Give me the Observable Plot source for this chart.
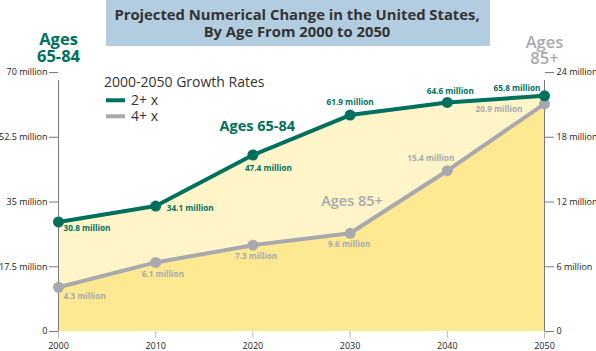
<!DOCTYPE html>
<html>
<head>
<meta charset="utf-8">
<script src="https://cdn.jsdelivr.net/npm/d3@7"></script>
<script src="https://cdn.jsdelivr.net/npm/@observablehq/plot@0.6"></script>
<style>
  html, body { margin: 0; padding: 0; background: #fff; }
  #chart { width: 596px; height: 351px; }
</style>
</head>
<body>
<div id="chart"></div>
<script>
// ---- data (millions), as plotted in the picture ----
const years = [2000, 2010, 2020, 2030, 2040, 2050];
const ages6584 = [29.6, 33.9, 47.7, 58.5, 61.9, 63.7];      // left axis
const ages85 = [4.1, 6.4, 8.0, 9.1, 14.9, 21.1];             // right axis
const labels6584 = ["30.8 million", "34.1 million", "47.4 million", "61.9 million", "64.6 million", "65.8 million"];
const labels85 = ["4.3 million", "6.1 million", "7.3 million", "9.6 million", "15.4 million", "20.9 million"];
const leftTicks = [0, 17.5, 35, 52.5, 70];
const rightTicks = [0, 6, 12, 18, 24];
const xTicks = [2000, 2010, 2020, 2030, 2040, 2050];
const titleLines = ["Projected Numerical Change in the United States,", "By Age From 2000 to 2050"];
const legendTitle = "2000-2050 Growth Rates";
const legendItems = ["2+ x", "4+ x"];

// label placement (style only)
const off6584 = [[5, 9.5, "start"], [11, 5, "start"], [-8, 16, "start"], [0, -10, "middle"], [3, -8.5, "middle"], [-4, -5, "end"]];
const off85 = [[5, 12, "start"], [-14, 15, "start"], [-18, 14, "start"], [-22, 14, "start"], [-40, -10, "start"], [-22, 8, "end"]];

const ratio = 70 / 24; // right-axis units -> left-axis units
const TEAL = "#00705e", GRAY = "#a8a9ad", LIGHTY = "#fff5c9", DARKY = "#fee993";
const FONT = "Open Sans";

const g1 = years.map((x, i) => ({x, y: ages6584[i], label: labels6584[i], dx: off6584[i][0], dy: off6584[i][1], a: off6584[i][2]}));
const g2 = years.map((x, i) => ({x, y: ages85[i] * ratio, label: labels85[i], dx: off85[i][0], dy: off85[i][1], a: off85[i][2]}));

function labelMarks(data, color) {
  return data.map(d => Plot.text([d], {
    x: "x", y: "y", text: "label", textAnchor: d.a, lineAnchor: "bottom",
    dx: d.dx, dy: d.dy, fill: color, fontSize: 8.2, fontWeight: "bold"
  }));
}

const chart = Plot.plot({
  width: 596, height: 351,
  marginLeft: 58, marginRight: 52, marginTop: 72, marginBottom: 20,
  x: {domain: [2000, 2050]},
  y: {domain: [0, 70]},
  style: {fontFamily: FONT, background: "#fff", overflow: "visible"},
  marks: [
    Plot.areaY(g1, {x: "x", y: "y", fill: LIGHTY}),
    Plot.areaY(g2, {x: "x", y: "y", fill: DARKY}),
    Plot.ruleX([2000, 2050], {y1: 0, y2: 70, stroke: "#7a7a7a", strokeWidth: 1, insetBottom: -8}),
    Plot.axisY({ticks: leftTicks, anchor: "left", tickSize: 9, tickPadding: 2, fontSize: 9,
      tickFormat: d => d === 0 ? "0" : d + " million", stroke: "#7a7a7a", color: "#222", label: null}),
    Plot.axisY({ticks: rightTicks.map(t => t * ratio), anchor: "right", tickSize: 9, tickPadding: 3, fontSize: 9,
      tickFormat: (d, i) => rightTicks[i] === 0 ? "0" : rightTicks[i] + " million", stroke: "#7a7a7a", color: "#222", label: null}),
    Plot.axisX({ticks: xTicks, tickSize: 7, tickPadding: 4, fontSize: 9, tickFormat: d => String(d),
      stroke: "#bbb", color: "#222", label: null}),
    Plot.line(g2, {x: "x", y: "y", stroke: GRAY, strokeWidth: 4}),
    Plot.dot(g2, {x: "x", y: "y", fill: GRAY, r: 5.5}),
    Plot.line(g1, {x: "x", y: "y", stroke: TEAL, strokeWidth: 4}),
    Plot.dot(g1, {x: "x", y: "y", fill: TEAL, r: 5.5}),
    ...labelMarks(g1, TEAL),
    ...labelMarks(g2, GRAY),
    // in-plot series annotations
    Plot.text([{x: 2020.45, y: 54.3}], {x: "x", y: "y", text: () => "Ages 65-84", fill: TEAL,
      fontSize: 14.5, fontWeight: "bold", lineAnchor: "bottom"}),
    Plot.text([{x: 2030.2, y: 33.8}], {x: "x", y: "y", text: () => "Ages 85+", fill: GRAY,
      fontSize: 14.5, fontWeight: 600, lineAnchor: "bottom"}),
    // axis headers
    Plot.text([{x: 2000, y: 70}], {x: "x", y: "y", text: () => "Ages\n65-84", fill: TEAL,
      fontSize: 16.5, fontWeight: "bold", lineAnchor: "bottom", lineHeight: 1.02, dy: -10.5}),
    Plot.text([{x: 2050, y: 70}], {x: "x", y: "y", text: () => "Ages\n85+", fill: GRAY,
      fontSize: 16.5, fontWeight: 600, lineAnchor: "bottom", lineHeight: 0.97, dy: -8.5})
  ]
});

document.getElementById("chart").appendChild(chart);

// title box and legend
const svg = d3.select(chart);
const tg = svg.append("g").attr("font-family", FONT);
tg.append("rect").attr("x", 106).attr("y", 0).attr("width", 384).attr("height", 46).attr("fill", "#b3cde0");
tg.selectAll("text.t").data(titleLines).join("text")
  .attr("x", 297).attr("y", (d, i) => i === 0 ? 19.5 : 37)
  .attr("text-anchor", "middle").attr("font-size", 14.8).attr("font-weight", "bold").attr("fill", "#333")
  .text(d => d);

const lg = svg.append("g").attr("font-family", FONT).attr("fill", "#333").attr("text-anchor", "start");
lg.append("text").attr("x", 104).attr("y", 87).attr("font-size", 14).text(legendTitle);
[TEAL, GRAY].forEach((c, i) => {
  lg.append("rect").attr("x", 106).attr("y", 98.3 + i * 16).attr("width", 19).attr("height", 4).attr("fill", c);
  lg.append("text").attr("x", 131).attr("y", 105 + i * 16).attr("font-size", 14).text(legendItems[i]);
});
</script>
</body>
</html>
